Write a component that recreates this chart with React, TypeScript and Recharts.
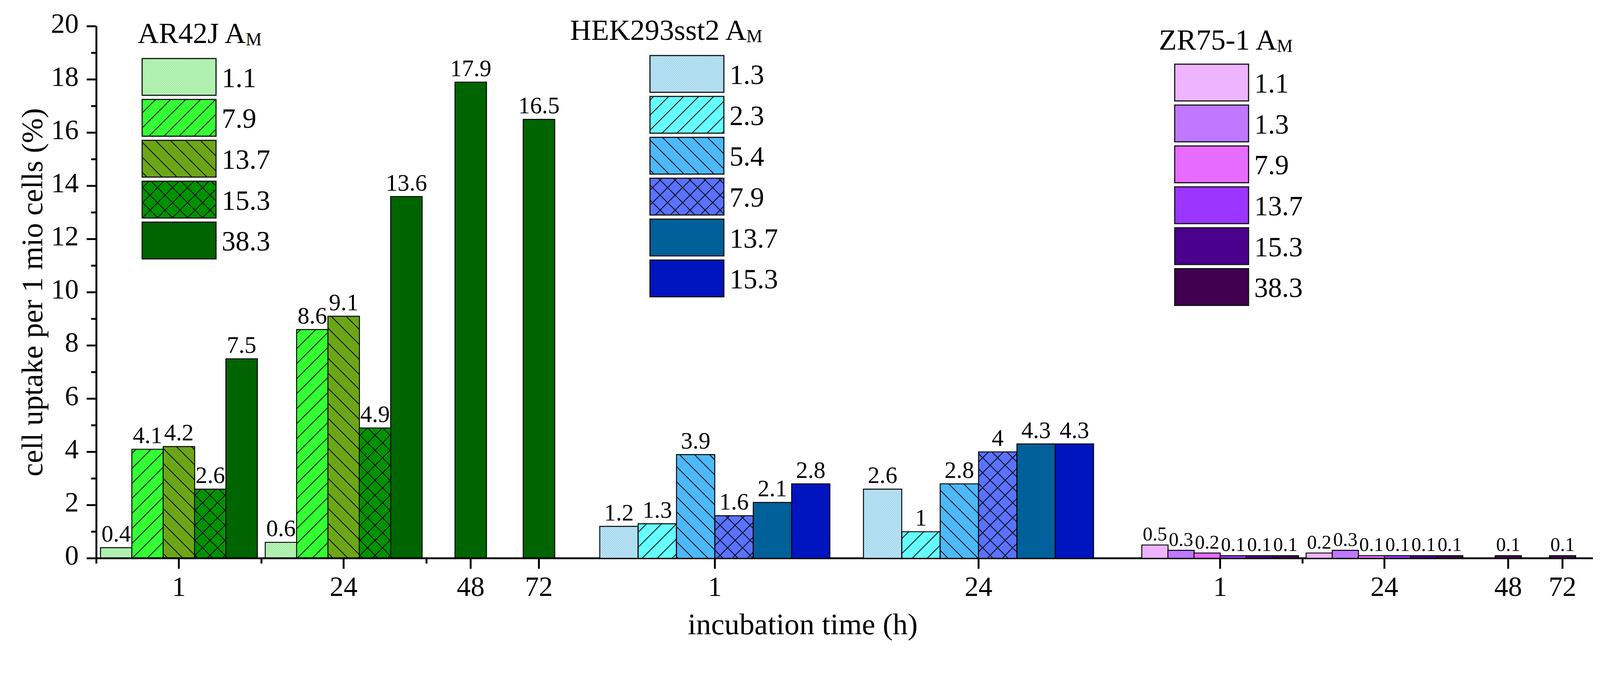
import { BarChart, Bar, XAxis, YAxis, Cell, LabelList, Label } from "recharts";

// ---- values: cell uptake (%) per 1 mio cells ----
const arTimes = ["1", "24", "48", "72"];
const arActivities = ["1.1", "7.9", "13.7", "15.3", "38.3"];
const ar11 = [0.4, 0.6, null, null];
const ar79 = [4.1, 8.6, null, null];
const ar137 = [4.2, 9.1, null, null];
const ar153 = [2.6, 4.9, null, null];
const ar383 = [7.5, 13.6, 17.9, 16.5];

const hekTimes = ["1", "24"];
const hekActivities = ["1.3", "2.3", "5.4", "7.9", "13.7", "15.3"];
const hek13 = [1.2, 2.6];
const hek23 = [1.3, 1];
const hek54 = [3.9, 2.8];
const hek79 = [1.6, 4];
const hek137 = [2.1, 4.3];
const hek153 = [2.8, 4.3];

const zrTimes = ["1", "24", "48", "72"];
const zrActivities = ["1.1", "1.3", "7.9", "13.7", "15.3", "38.3"];
const zr11 = [0.5, 0.2, null, null];
const zr13 = [0.3, 0.3, null, null];
const zr79 = [0.2, 0.1, null, null];
const zr137 = [0.1, 0.1, null, null];
const zr153 = [0.1, 0.1, null, null];
const zr383 = [0.1, 0.1, 0.1, 0.1];

const yMajorTicks = [0, 2, 4, 6, 8, 10, 12, 14, 16, 18, 20];
const yMinorTicks = [1, 3, 5, 7, 9, 11, 13, 15, 17, 19];

// ---- axis layout (x axis runs 0..1000) ----
const X_DOMAIN = [0, 1000];
const arCenters = [55.1, 165.2, 250.1, 295.7];
const hekCenters = [413.3, 589.5];
const zrCenters = [750.9, 860.7, 943.4, 979.7];
const xMinorTicks = [0, 110.3, 220.6, 806.0];
const AR_STEP = 20.95;
const HEK_STEP = 25.64;
const ZR_STEP = 17.44;

const W = 4266;
const H = 1735;
const MARGIN = { top: 70, right: 19, bottom: 247, left: 257 };
const FONT = "'Liberation Serif', 'DejaVu Serif', 'Times New Roman', serif";
const txt = (size: number): React.CSSProperties => ({ fontFamily: FONT, fontSize: size });

const arFills = ["url(#arDots)", "url(#arFwd)", "url(#arBack)", "url(#arCross)", "#006400"];
const hekFills = ["url(#hekDots)", "url(#hekFwd)", "url(#hekBack)", "url(#hekCross)", "#00609a", "#0014bf"];
const zrFills = ["#eeb4ff", "#bf78ff", "#e66cff", "#9a36ff", "#4a008d", "#410050"];

type Row = { x: number; v: number; s: number };

// one row per drawn bar; bars of a time group sit side by side around its centre
const buildRows = (series: (number | null)[][], centers: number[], step: number): Row[] => {
  const rows: Row[] = [];
  centers.forEach((c, g) => {
    const present = series
      .map((vals, s) => ({ s, v: vals[g] }))
      .filter((d) => d.v !== null && d.v !== undefined) as { s: number; v: number }[];
    present.forEach((d, k) => {
      rows.push({ x: c + (k - (present.length - 1) / 2) * step, v: d.v, s: d.s });
    });
  });
  return rows;
};

const arRows = buildRows([ar11, ar79, ar137, ar153, ar383], arCenters, AR_STEP);
const hekRows = buildRows([hek13, hek23, hek54, hek79, hek137, hek153], hekCenters, HEK_STEP);
const zrRows = buildRows([zr11, zr13, zr79, zr137, zr153, zr383], zrCenters, ZR_STEP);

const xTickLabels = new Map<number, string>();
arCenters.forEach((c, i) => xTickLabels.set(c, arTimes[i]));
hekCenters.forEach((c, i) => xTickLabels.set(c, hekTimes[i]));
zrCenters.forEach((c, i) => xTickLabels.set(c, zrTimes[i]));
const xTicks = [...xTickLabels.keys(), ...xMinorTicks].sort((a, b) => a - b);
const yTicks = [...yMajorTicks, ...yMinorTicks].sort((a, b) => a - b);

const XTick = (props: any) => {
  const { x, y, payload } = props;
  const label = xTickLabels.get(payload.value);
  const major = label !== undefined;
  return (
    <g>
      <line x1={x} x2={x} y1={y} y2={y + (major ? 28 : 14)} stroke="#000" strokeWidth={5} />
      {major && (
        <text x={x} y={y + 100} textAnchor="middle" fill="#000" style={txt(74)}>
          {label}
        </text>
      )}
    </g>
  );
};

const YTick = (props: any) => {
  const { x, y, payload } = props;
  const major = yMajorTicks.includes(payload.value);
  return (
    <g>
      <line x1={x - (major ? 26 : 14)} x2={x} y1={y} y2={y} stroke="#000" strokeWidth={5} />
      {major && (
        <text x={x - 47} y={y + 17} textAnchor="end" fill="#000" style={txt(74)}>
          {payload.value}
        </text>
      )}
    </g>
  );
};

const XTitle = (props: any) => {
  const { viewBox } = props;
  return (
    <text x={viewBox.x + viewBox.width * 0.472} y={viewBox.y + 202} textAnchor="middle" fill="#000" style={txt(80)}>
      incubation time (h)
    </text>
  );
};

const YTitle = (props: any) => {
  const { viewBox } = props;
  const cx = viewBox.x + 84;
  const cy = viewBox.y + viewBox.height / 2;
  return (
    <text
      x={cx}
      y={cy}
      dy={28}
      transform={`rotate(-90, ${cx}, ${cy})`}
      textAnchor="middle"
      fill="#000"
      style={txt(80)}
    >
      cell uptake per 1 mio cells (%)
    </text>
  );
};

const Hatch = ({ id, bg, kind }: { id: string; bg: string; kind: string }) => (
  <pattern id={id} patternUnits="userSpaceOnUse" width={40} height={40}>
    <rect width={40} height={40} fill={bg} />
    {(kind === "fwd" || kind === "cross") && (
      <path d="M-10,10 L10,-10 M0,40 L40,0 M30,50 L50,30" stroke="#000" strokeWidth={2} />
    )}
    {(kind === "back" || kind === "cross") && (
      <path d="M-10,30 L10,50 M0,0 L40,40 M30,-10 L50,10" stroke="#000" strokeWidth={2} />
    )}
  </pattern>
);

const Dots = ({ id, bg, dot }: { id: string; bg: string; dot: string }) => (
  <pattern id={id} patternUnits="userSpaceOnUse" width={6} height={6}>
    <rect width={6} height={6} fill={bg} />
    <rect x={0} y={0} width={2} height={2} fill={dot} />
    <rect x={3} y={3} width={2} height={2} fill={dot} />
  </pattern>
);

const LegendBlock = ({
  name,
  labels,
  fills,
  titleX,
  titleY,
  boxX,
  boxY,
}: {
  name: string;
  labels: string[];
  fills: string[];
  titleX: number;
  titleY: number;
  boxX: number;
  boxY: number;
}) => (
  <g fill="#000">
    <text x={titleX} y={titleY} style={txt(78)}>
      {name} A
      <tspan dy={6} style={txt(48)}>
        M
      </tspan>
    </text>
    {labels.map((lab, i) => (
      <g key={lab + i}>
        <rect x={boxX} y={boxY + i * 109} width={197} height={98} fill={fills[i]} stroke="#111" strokeWidth={3} />
        <text x={boxX + 212} y={boxY + i * 109 + 76} fill="#000" style={txt(74)}>
          {lab}
        </text>
      </g>
    ))}
  </g>
);

const layer: React.CSSProperties = { position: "absolute", left: 0, top: 0 };

export default function App() {
  // the drawing is laid out in the 4266x1735 frame and fitted to the window
  const fit =
    typeof window !== "undefined" ? Math.min(window.innerWidth / W, window.innerHeight / H) : 1;

  return (
    <>
      <style>{"html,body{margin:0;padding:0;overflow:hidden;background:#fff}"}</style>
      <div
        style={{
          ...layer,
          width: W,
          height: H,
          background: "#fff",
          transform: `scale(${fit})`,
          transformOrigin: "0 0",
          fontFamily: FONT,
        }}
      >
        <div style={layer}>
          <BarChart
            width={W}
            height={H}
            data={arRows}
            margin={{ top: MARGIN.top, right: MARGIN.right, bottom: 0, left: 0 }}
            barCategoryGap={0}
            barGap={0}
          >
            <XAxis
              type="number"
              dataKey="x"
              domain={X_DOMAIN}
              ticks={xTicks}
              interval={0}
              height={MARGIN.bottom}
              tickSize={0}
              tickMargin={0}
              tickLine={false}
              axisLine={{ stroke: "#000", strokeWidth: 5 }}
              tick={(p: any) => <XTick {...p} />}
            >
              <Label content={(p: any) => <XTitle {...p} />} />
            </XAxis>
            <YAxis
              type="number"
              domain={[0, 20]}
              ticks={yTicks}
              interval={0}
              width={MARGIN.left}
              tickSize={0}
              tickMargin={0}
              tickLine={false}
              axisLine={{ stroke: "#000", strokeWidth: 5 }}
              tick={(p: any) => <YTick {...p} />}
            >
              <Label content={(p: any) => <YTitle {...p} />} />
            </YAxis>
            <Bar dataKey="v" isAnimationActive={false} stroke="#000" strokeWidth={2.5}>
              {arRows.map((r, i) => (
                <Cell key={`ar-${i}`} fill={arFills[r.s]} />
              ))}
              <LabelList dataKey="v" position="top" offset={16} fill="#000" style={txt(63)} />
            </Bar>
          </BarChart>
        </div>

        <div style={layer}>
          <BarChart width={W} height={H} data={hekRows} margin={MARGIN} barCategoryGap={0} barGap={0}>
            <XAxis hide type="number" dataKey="x" domain={X_DOMAIN} />
            <YAxis hide type="number" domain={[0, 20]} />
            <Bar dataKey="v" isAnimationActive={false} stroke="#000" strokeWidth={2.5}>
              {hekRows.map((r, i) => (
                <Cell key={`hek-${i}`} fill={hekFills[r.s]} />
              ))}
              <LabelList dataKey="v" position="top" offset={16} fill="#000" style={txt(63)} />
            </Bar>
          </BarChart>
        </div>

        <div style={layer}>
          <BarChart width={W} height={H} data={zrRows} margin={MARGIN} barCategoryGap={0} barGap={0}>
            <XAxis hide type="number" dataKey="x" domain={X_DOMAIN} />
            <YAxis hide type="number" domain={[0, 20]} />
            <Bar dataKey="v" isAnimationActive={false} stroke="#000" strokeWidth={2.5}>
              {zrRows.map((r, i) => (
                <Cell key={`zr-${i}`} fill={zrFills[r.s]} />
              ))}
              <LabelList dataKey="v" position="top" offset={12} fill="#000" style={txt(52)} />
            </Bar>
          </BarChart>
        </div>

        <svg style={{ ...layer, pointerEvents: "none" }} width={W} height={H}>
          <defs>
            <Dots id="arDots" bg="#b6f5b6" dot="#98dc98" />
            <Hatch id="arFwd" bg="#33ff33" kind="fwd" />
            <Hatch id="arBack" bg="#6ca617" kind="back" />
            <Hatch id="arCross" bg="#009300" kind="cross" />
            <Dots id="hekDots" bg="#b8e4f6" dot="#98c8dc" />
            <Hatch id="hekFwd" bg="#66ffff" kind="fwd" />
            <Hatch id="hekBack" bg="#4cb9fa" kind="back" />
            <Hatch id="hekCross" bg="#5a72ff" kind="cross" />
          </defs>
          <LegendBlock name="AR42J" labels={arActivities} fills={arFills} titleX={367} titleY={115} boxX={379} boxY={156} />
          <LegendBlock name="HEK293sst2" labels={hekActivities} fills={hekFills} titleX={1520} titleY={106} boxX={1733} boxY={148} />
          <LegendBlock name="ZR75-1" labels={zrActivities} fills={zrFills} titleX={3090} titleY={132} boxX={3132} boxY={171} />
        </svg>
      </div>
    </>
  );
}
